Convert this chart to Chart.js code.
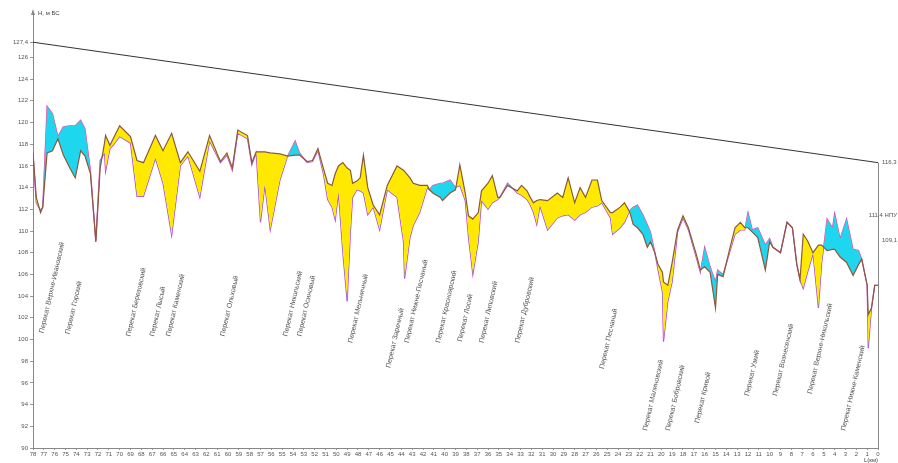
<!DOCTYPE html>
<html><head><meta charset="utf-8">
<script src="https://cdn.jsdelivr.net/npm/chart.js@4.4.1/dist/chart.umd.min.js"></script>
<style>html,body{margin:0;padding:0;background:#fff}canvas{display:block}</style>
</head><body>
<canvas id="c" width="898" height="463"></canvas>
<script>
// Distance along river, km
const km = [78.0,77.7,77.3,77.1,76.7,76.2,75.7,75.2,74.6,74.1,73.6,73.2,72.7,72.2,71.8,71.4,71.3,70.9,70.6,70.0,
69.0,68.4,67.8,66.7,66.0,65.2,64.4,63.7,62.6,61.7,60.7,60.1,59.6,59.1,58.2,57.8,57.4,57.0,56.6,56.1,
55.2,54.5,53.8,53.4,52.7,52.2,51.7,51.2,50.8,50.4,50.1,49.8,49.4,49.0,48.7,48.5,48.1,47.8,47.5,47.1,
46.6,46.0,45.3,44.4,43.8,43.7,43.2,42.9,42.3,41.6,41.4,41.1,40.4,40.2,39.5,39.0,38.6,38.1,37.8,37.4,
36.9,36.6,36.0,35.6,35.1,34.9,34.2,33.3,32.9,32.4,32.1,31.8,31.5,31.2,30.5,29.6,29.1,28.6,28.0,27.5,
27.0,26.4,25.9,25.5,24.7,24.5,23.8,23.4,22.9,22.6,22.2,21.7,21.3,21.0,20.6,20.3,19.9,19.8,19.4,19.0,
18.5,18.0,17.5,16.7,16.4,16.0,15.5,15.0,14.8,14.3,13.7,13.2,12.7,12.3,12.0,11.6,11.1,10.4,10.0,9.7,
9.0,8.4,7.9,7.5,7.2,6.9,6.5,6.0,5.5,5.2,4.7,4.2,4.0,3.5,2.9,2.3,1.8,1.5,1.0,0.9,0.6,0.3,0.0];
// Water level, series 1 (dark line)
const levelDark = [117.2,113.1,111.7,112.2,117.2,117.4,118.5,117.0,115.8,114.9,117.4,116.9,115.3,109.0,115.8,118.1,118.8,117.9,118.5,119.7,
118.7,116.5,116.3,118.8,117.4,119.0,116.3,117.3,115.5,118.8,116.4,117.2,115.8,119.3,118.8,116.3,117.3,117.3,117.3,117.2,
117.1,116.9,117.0,117.0,116.4,116.5,117.6,115.8,114.4,114.2,115.3,116.0,116.3,115.8,115.6,114.4,114.6,114.9,117.0,114.0,
112.4,111.5,114.2,116.0,115.6,115.5,114.9,114.4,114.2,114.2,113.8,113.5,113.1,112.8,113.5,113.8,116.1,113.5,111.4,111.1,
111.7,113.7,114.4,115.1,113.1,113.1,114.2,113.7,114.2,113.7,113.1,112.6,112.8,112.9,112.8,113.5,113.1,114.9,112.6,114.0,
113.1,114.7,114.7,112.8,111.7,111.7,112.2,112.6,111.7,110.6,110.3,109.7,108.5,109.0,108.0,106.9,106.2,105.3,105.0,107.1,
110.1,111.4,110.3,107.6,106.4,106.7,106.2,102.9,106.0,105.8,108.3,110.3,110.8,110.3,110.3,109.9,109.4,106.4,109.0,108.5,
108.0,110.8,110.3,107.0,105.5,109.7,109.1,108.0,108.7,108.7,108.2,108.3,108.3,107.6,107.1,105.9,106.9,107.4,105.0,102.3,102.9,105.0,105.0];
// Water level, series 2 (magenta line)
const levelMag = [117.2,112.6,111.9,112.2,121.5,120.8,118.7,119.6,119.7,119.7,120.2,119.4,115.6,109.1,116.5,117.2,115.5,117.6,117.9,118.7,
118.1,113.2,113.2,116.7,114.4,109.6,116.0,116.9,113.1,118.3,116.3,117.0,115.6,119.0,118.5,116.1,117.2,110.8,114.2,110.1,
114.7,116.9,118.3,117.2,116.3,116.4,117.4,115.3,112.9,112.2,111.0,113.5,108.0,103.5,109.9,113.1,113.8,113.7,113.5,111.5,
112.2,110.1,113.8,113.1,109.0,105.6,109.4,110.5,111.7,114.0,113.8,114.2,114.4,114.4,114.7,114.0,114.2,112.8,109.4,106.0,
109.0,112.8,112.0,112.6,112.9,113.1,114.4,113.5,113.3,112.9,112.4,111.7,110.6,112.3,110.1,111.2,111.4,111.5,111.0,111.5,
111.7,112.2,112.3,112.6,111.2,109.7,110.3,110.8,111.9,112.2,112.4,111.5,110.6,109.9,108.0,106.4,104.4,99.8,103.5,105.3,
109.9,111.2,110.1,107.3,106.2,108.5,106.7,105.3,106.4,106.0,108.0,109.7,110.1,110.1,111.7,110.1,110.3,108.7,109.3,108.5,
108.0,110.8,110.3,106.9,105.5,104.7,106.2,107.9,102.9,107.0,111.1,110.3,111.6,109.3,111.1,108.3,108.2,107.4,105.0,99.2,102.9,105.0,105.0];
// Design line
const topLineKm = [78, 0];
const topLineLevel = [127.4, 116.3];
// Axis ticks
const yTicks = [90,92,94,96,98,100,102,104,106,108,110,112,114,116,118,120,122,124,126,127.4];
const xTicks = Array.from({length: 79}, (_, i) => i);
// Right-side marks
const rightLabels = ['116,3', '111,4 НПУ', '109,1'];
const rightLevels = [116.3, 111.4, 109.1];
// Rapid names and their anchor points
const rapidNames = ['Перекат Верхне-Ивановский','Перекат Горский','Перекат Березовский','Перекат Лысый','Перекат Каменский',
'Перекат Ольховый','Перекат Никольский','Перекат Осиновый','Перекат Мельничный','Перекат Заречный','Перекат Нижне-Песчаный',
'Перекат Красноярский','Перекат Лосий','Перекат Липовский','Перекат Дубровский','Перекат Песчаный','Перекат Малиновский',
'Перекат Бобровский','Перекат Кривой','Перекат Узкий','Перекат Вознесенский','Перекат Верхне-Никольский','Перекат Нижне-Каменский'];
const rapidKm = [77.2,74.8,69.2,67.0,65.5,60.5,54.7,53.4,48.7,45.2,43.5,40.6,38.6,36.6,33.3,25.5,21.5,19.4,16.7,12.1,9.5,6.3,3.2];
const rapidLevel = [100.6,100.5,100.3,100.3,100.3,100.3,100.3,100.3,99.7,97.4,99.7,99.7,99.8,99.7,99.7,97.3,91.6,91.6,92.3,94.8,94.8,95.0,91.6];

const fmt = v => String(v).replace('.', ',');

const decor = {
  id: 'decor',
  afterDraw(chart) {
    const ctx = chart.ctx, xs = chart.scales.x, ys = chart.scales.y, a = chart.chartArea;
    ctx.save();
    // right vertical line
    const xr = xs.getPixelForValue(0);
    ctx.strokeStyle = '#888'; ctx.lineWidth = 1;
    ctx.beginPath(); ctx.moveTo(xr + 0.5, ys.getPixelForValue(topLineLevel[1])); ctx.lineTo(xr + 0.5, a.bottom); ctx.stroke();
    // right labels
    ctx.fillStyle = '#555'; ctx.font = '6px "Liberation Sans", Arial, sans-serif'; ctx.textBaseline = 'middle';
    rightLabels.forEach((t, i) => {
      const y = ys.getPixelForValue(rightLevels[i]);
      ctx.textAlign = i === 1 ? 'right' : 'left';
      ctx.fillText(t, i === 1 ? 897 : xr + 4, y);
    });
    // rapid labels
    ctx.fillStyle = '#555'; ctx.font = '7px "Liberation Sans", Arial, sans-serif';
    ctx.textAlign = 'left'; ctx.textBaseline = 'middle';
    rapidNames.forEach((t, i) => {
      const x = xs.getPixelForValue(rapidKm[i]), y = ys.getPixelForValue(rapidLevel[i]);
      ctx.save(); ctx.translate(x, y); ctx.rotate(-77 * Math.PI / 180); ctx.fillText(t, 0, 0); ctx.restore();
    });
    // axis titles
    ctx.font = '6px "Liberation Sans", Arial, sans-serif'; ctx.fillStyle = '#444';
    ctx.textAlign = 'left'; ctx.fillText('Н, м БС', 38, 13);
    ctx.fillText('L(км)', 864, 460);
    // arrow
    const xl = a.left;
    ctx.fillStyle = '#888';
    ctx.beginPath(); ctx.moveTo(xl, a.top - 5); ctx.lineTo(xl - 2, a.top + 1); ctx.lineTo(xl + 2, a.top + 1); ctx.closePath(); ctx.fill();
    ctx.restore();
  }
};

new Chart(document.getElementById('c'), {
  type: 'line',
  data: {
    datasets: [
      { data: km.map((k, i) => ({x: k, y: levelDark[i]})), borderColor: '#8a5a3a', borderWidth: 1.2,
        pointRadius: 0, tension: 0, fill: {target: 1, above: 'rgb(255,233,0)', below: 'rgb(30,214,238)'} },
      { data: km.map((k, i) => ({x: k, y: levelMag[i]})), borderColor: '#d23cd2', borderWidth: 1.2,
        pointRadius: 0, tension: 0, fill: false },
      { data: topLineKm.map((k, i) => ({x: k, y: topLineLevel[i]})), borderColor: '#333', borderWidth: 1,
        pointRadius: 0, fill: false }
    ]
  },
  options: {
    responsive: false, animation: false, devicePixelRatio: 1,
    layout: {padding: {top: 14, right: 20, left: 0, bottom: 0}},
    plugins: {legend: {display: false}, tooltip: {enabled: false}},
    scales: {
      x: { type: 'linear', reverse: true, min: 0, max: 78,
        afterBuildTicks: s => { s.ticks = xTicks.map(v => ({value: v})); },
        afterFit: s => { s.height = 15; },
        ticks: { autoSkip: false, maxRotation: 0, padding: 1, font: {size: 6}, color: '#555' },
        grid: { drawOnChartArea: false, drawTicks: true, tickLength: 2, color: '#999' },
        border: { color: '#888' } },
      y: { min: 90, max: 130,
        afterBuildTicks: s => { s.ticks = yTicks.map(v => ({value: v})); },
        afterFit: s => { s.width = 33; },
        ticks: { autoSkip: false, padding: 2, font: {size: 6}, color: '#555', callback: v => fmt(v) },
        grid: { drawOnChartArea: false, drawTicks: true, tickLength: 3, color: '#999' },
        border: { color: '#888' } }
    }
  },
  plugins: [decor]
});
</script>
</body></html>
